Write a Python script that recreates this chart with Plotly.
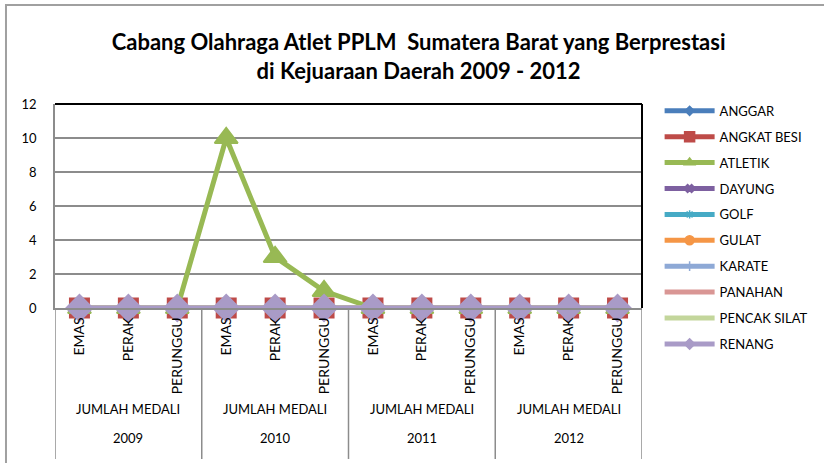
import plotly.graph_objects as go

categories = ["EMAS", "PERAK", "PERUNGGU"] * 4
group_label = "JUMLAH MEDALI"
years = ["2009", "2010", "2011", "2012"]

series_names = ["ANGGAR", "ANGKAT BESI", "ATLETIK", "DAYUNG", "GOLF",
                "GULAT", "KARATE", "PANAHAN", "PENCAK SILAT", "RENANG"]
anggar = [0] * 12
angkat_besi = [0] * 12
atletik = [0, 0, 0, 10, 3, 1, 0, 0, 0, 0, 0, 0]
dayung = [0] * 12
golf = [0] * 12
gulat = [0] * 12
karate = [0] * 12
panahan = [0] * 12
pencak_silat = [0] * 12
renang = [0] * 12
series_values = [anggar, angkat_besi, atletik, dayung, golf, gulat,
                 karate, panahan, pencak_silat, renang]

colors = ["#4A7EBB", "#BE4B48", "#98B954", "#7D60A0", "#46AAC5",
          "#F59646", "#8EA9D6", "#D99694", "#C3D69B", "#A99BC7"]
symbols = ["diamond", "square", "triangle-up", "x", "asterisk-open",
           "circle", "cross-thin-open", None, None, "diamond"]
msizes = [14, 19, 20, 12, 12, 15, 12, 0, 0, 20]
legend_msizes = [7, 10, 9, 7, 7, 9, 7, 0, 0, 8]

FONT = "Lato"
xs = list(range(len(categories)))

fig = go.Figure()
for name, vals, col, sym, ms in zip(series_names, series_values, colors, symbols, msizes):
    mode = "lines+markers" if sym else "lines"
    marker = dict(symbol=sym, size=ms, color=col,
                  line=dict(color=col, width=2)) if sym else None
    fig.add_trace(go.Scatter(
        x=xs, y=vals, name=name, mode=mode,
        line=dict(color=col, width=5),
        marker=marker, cliponaxis=False, legendgroup=name, showlegend=False,
    ))
# legend entries (small markers like the reference legend)
for name, col, sym, ms in zip(series_names, colors, symbols, legend_msizes):
    mode = "lines+markers" if sym else "lines"
    marker = dict(symbol=sym, size=ms, color=col,
                  line=dict(color=col, width=1.5)) if sym else None
    fig.add_trace(go.Scatter(
        x=[None], y=[None], name=name, mode=mode,
        line=dict(color=col, width=5), marker=marker,
        legendgroup=name, showlegend=True,
    ))

shapes = []
shapes.append(dict(type="line", xref="paper", yref="paper", x0=0, x1=1, y0=1, y1=1,
                   line=dict(color="black", width=2)))
shapes.append(dict(type="line", xref="paper", yref="paper", x0=1, x1=1, y0=0, y1=1,
                   line=dict(color="black", width=2)))
for i in range(len(years) + 1):
    xv = -0.5 + 3 * i
    shapes.append(dict(type="line", xref="x", yref="paper", x0=xv, x1=xv,
                       y0=0, y1=-0.74, line=dict(color="#8C8C8C", width=1.5)))
shapes.append(dict(type="rect", xref="paper", yref="paper", x0=-0.0835, x1=1.4,
                   y0=-0.95, y1=1.485, line=dict(color="#A0A0A0", width=2),
                   layer="below"))

annotations = []
for i, yr in enumerate(years):
    cx = 3 * i + 1
    annotations.append(dict(x=cx, y=-0.542, xref="x", yref="paper", text=group_label,
                            showarrow=False, font=dict(family=FONT, size=13, color="black")))
    annotations.append(dict(x=cx, y=-0.686, xref="x", yref="paper", text=yr,
                            showarrow=False, font=dict(family=FONT, size=13, color="black")))

fig.update_layout(
    width=824, height=463,
    margin=dict(l=55, r=182, t=104, b=155, autoexpand=False),
    paper_bgcolor="white", plot_bgcolor="white",
    title=dict(text="<b>Cabang Olahraga Atlet PPLM  Sumatera Barat yang Berprestasi<br>di Kejuaraan Daerah 2009 - 2012</b>",
               x=0.508, xanchor="center", y=0.892, yanchor="top",
               font=dict(family=FONT, size=22, color="black")),
    xaxis=dict(range=[-0.5, 11.5], tickvals=xs, ticktext=categories, tickangle=-90,
               showgrid=False, zeroline=False, showline=True, linecolor="#8C8C8C",
               linewidth=1.5, ticks="", ticklabelstandoff=2,
               tickfont=dict(family=FONT, size=14, color="black"),
               automargin=False),
    yaxis=dict(range=[0, 12], dtick=2, showgrid=True, gridcolor="#8C8C8C", gridwidth=1.5,
               zeroline=False, showline=True, linecolor="#8C8C8C", linewidth=1.5,
               ticks="", ticklabelstandoff=14, automargin=False,
               tickfont=dict(family=FONT, size=13, color="black")),
    legend=dict(x=1.03, y=1.04, xanchor="left", yanchor="top", tracegroupgap=6,
                itemsizing="trace", itemwidth=50, maxheight=400,
                font=dict(family=FONT, size=13, color="black"),
                bgcolor="rgba(0,0,0,0)"),
    shapes=shapes, annotations=annotations,
    showlegend=True,
)

fig.write_html("out.html", config={"displayModeBar": False},
               post_script="document.body.style.margin='0px';")
